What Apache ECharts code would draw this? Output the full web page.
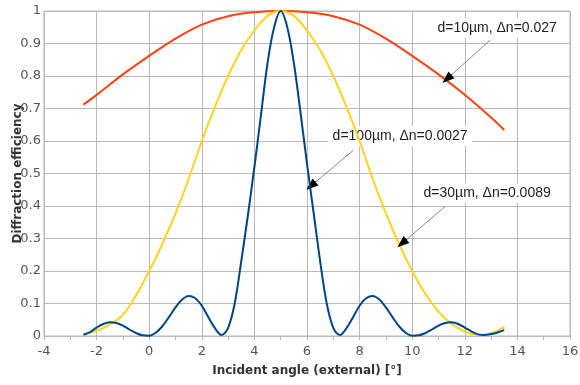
<!DOCTYPE html>
<html>
<head>
<meta charset="utf-8">
<script src="https://cdn.jsdelivr.net/npm/echarts@6/dist/echarts.min.js"></script>
<style>
  html, body {margin: 0; padding: 0; background: #fff;}
  #chart {width: 580px; height: 385px;}
</style>
</head>
<body>
<div id="chart"></div>
<script>
// d=10µm, Δn=0.027
const angles10 = [-2.5, -2, -1, 0, 1, 2, 3, 4, 5, 6, 7, 8, 9, 10, 11, 12, 13, 13.5];
const eff10 = [0.712, 0.742, 0.805, 0.862, 0.915, 0.958, 0.984, 0.996, 1, 0.996, 0.984, 0.958, 0.915, 0.862, 0.805, 0.742, 0.672, 0.634];

// d=30µm, Δn=0.0089
const angles30 = [-2.5, -2, -1.5, -1, -0.5, 0, 0.5, 1, 1.5, 2, 2.5, 3, 3.5, 4, 4.5, 5,
  5.5, 6, 6.5, 7, 7.5, 8, 8.5, 9, 9.5, 10, 10.5, 11, 11.5, 12, 12.5, 13, 13.5];
const eff30 = [0.005, 0.016, 0.035, 0.065, 0.125, 0.2, 0.283, 0.377, 0.483, 0.6, 0.705, 0.8, 0.88, 0.94, 0.985, 1,
  0.985, 0.94, 0.88, 0.8, 0.705, 0.6, 0.483, 0.377, 0.283, 0.2, 0.13, 0.075, 0.037, 0.014, 0.004, 0.008, 0.028];

// d=100µm, Δn=0.0027
const angles100 = [-2.5, -2.25, -2, -1.75, -1.5, -1.25, -1, -0.75, -0.5, -0.25, 0, 0.25, 0.5, 0.75, 1, 1.25,
  1.5, 1.75, 2, 2.25, 2.5, 2.75, 3, 3.25, 3.5, 3.75, 4, 4.25, 4.5, 4.75, 5, 5.25,
  5.5, 5.75, 6, 6.25, 6.5, 6.75, 7, 7.25, 7.5, 7.75, 8, 8.25, 8.5, 8.75, 9, 9.25,
  9.5, 9.75, 10, 10.25, 10.5, 10.75, 11, 11.25, 11.5, 11.75, 12, 12.25, 12.5, 12.75, 13, 13.25, 13.5];
const eff100 = [0.004, 0.012, 0.026, 0.037, 0.042, 0.040, 0.032, 0.020, 0.009, 0.002, 0.001, 0.010, 0.030, 0.058, 0.088, 0.112,
  0.123, 0.116, 0.093, 0.058, 0.024, 0.003, 0.025, 0.10, 0.23, 0.37, 0.52, 0.68, 0.84, 0.95, 1, 0.95,
  0.84, 0.69, 0.53, 0.38, 0.23, 0.10, 0.025, 0.003, 0.024, 0.058, 0.093, 0.116, 0.123, 0.112, 0.088, 0.058,
  0.030, 0.010, 0.001, 0.002, 0.009, 0.020, 0.032, 0.040, 0.042, 0.037, 0.026, 0.014, 0.005, 0.003, 0.006, 0.011, 0.018];

// callouts: label position, arrow start, arrow tip (data coords)
const labels = ['d=10µm, Δn=0.027', 'd=30µm, Δn=0.0089', 'd=100µm, Δn=0.0027'];
const labelAt = [[13.23, 0.948], [12.85, 0.44], [9.54, 0.615]];
const arrowFrom = [[12.97, 0.911], [11.25, 0.398], [7.77, 0.572]];
const arrowTo = [[11.32, 0.791], [9.61, 0.285], [6.15, 0.462]];

const colors = ['#ff420e', '#ffd320', '#004586'];
const gridColor = '#b9b9b9';

function pairs(xs, ys) {
  return xs.map((x, i) => [x, ys[i]]);
}

function callout(i) {
  const from = arrowFrom[i], to = arrowTo[i];
  const near = [to[0] + (from[0] - to[0]) * 0.12, to[1] + (from[1] - to[1]) * 0.12];
  return {
    markPoint: {
      symbol: 'rect',
      symbolSize: 0,
      silent: true,
      z: 1,
      label: {
        show: true,
        position: 'inside',
        formatter: labels[i],
        color: '#222',
        fontFamily: 'Liberation Sans',
        fontSize: 14,
        backgroundColor: '#fff',
        padding: [3, 5]
      },
      data: [{coord: labelAt[i]}]
    },
    markLine: {
      silent: true,
      symbol: ['none', 'none'],
      label: {show: false},
      lineStyle: {color: '#8a8a8a', width: 1, type: 'solid'},
      data: [
        [{coord: from}, {coord: to}],
        [{coord: near, symbol: 'none'}, {coord: to, symbol: 'triangle', symbolSize: [9, 12],
          lineStyle: {color: '#000', width: 1}}]
      ]
    }
  };
}

const chart = echarts.init(document.getElementById('chart'));
chart.setOption({
  animation: false,
  backgroundColor: '#fff',
  grid: {
    left: 44, right: 10, top: 11, bottom: 49,
    outerBoundsMode: 'none',
    show: true, borderColor: gridColor, borderWidth: 1
  },
  xAxis: {
    type: 'value',
    min: -4,
    max: 16,
    interval: 2,
    name: 'Incident angle (external) [°]',
    nameLocation: 'middle',
    nameGap: 29,
    nameTextStyle: {fontFamily: 'DejaVu Sans', fontWeight: 'bold', fontSize: 12, color: '#333'},
    axisLine: {lineStyle: {color: gridColor}},
    axisTick: {show: true, length: 4, lineStyle: {color: gridColor}},
    minorTick: {show: true, splitNumber: 2, length: 4, lineStyle: {color: gridColor}},
    axisLabel: {fontFamily: 'DejaVu Sans', fontSize: 13, color: '#555', margin: 9},
    splitLine: {show: true, lineStyle: {color: gridColor}}
  },
  yAxis: {
    type: 'value',
    min: 0,
    max: 1,
    interval: 0.1,
    name: 'Diffraction efficiency',
    nameLocation: 'middle',
    nameGap: 20,
    nameMoveOverlap: false,
    nameTextStyle: {fontFamily: 'DejaVu Sans', fontWeight: 'bold', fontSize: 12, color: '#333'},
    axisLine: {show: true, onZero: true, lineStyle: {color: gridColor}},
    axisTick: {show: false},
    axisLabel: {fontFamily: 'DejaVu Sans', fontSize: 13, color: '#555', margin: 3},
    splitLine: {show: true, lineStyle: {color: gridColor}}
  },
  series: [
    {name: 'd=10µm', data: pairs(angles10, eff10), ...callout(0)},
    {name: 'd=30µm', data: pairs(angles30, eff30), ...callout(1)},
    {name: 'd=100µm', data: pairs(angles100, eff100), ...callout(2)}
  ].map((s, i) => ({
    ...s,
    type: 'line',
    smooth: 0.35,
    showSymbol: false,
    z: 3 + i,
    lineStyle: {color: colors[i], width: 2},
    itemStyle: {color: colors[i]}
  }))
});
</script>
</body>
</html>
